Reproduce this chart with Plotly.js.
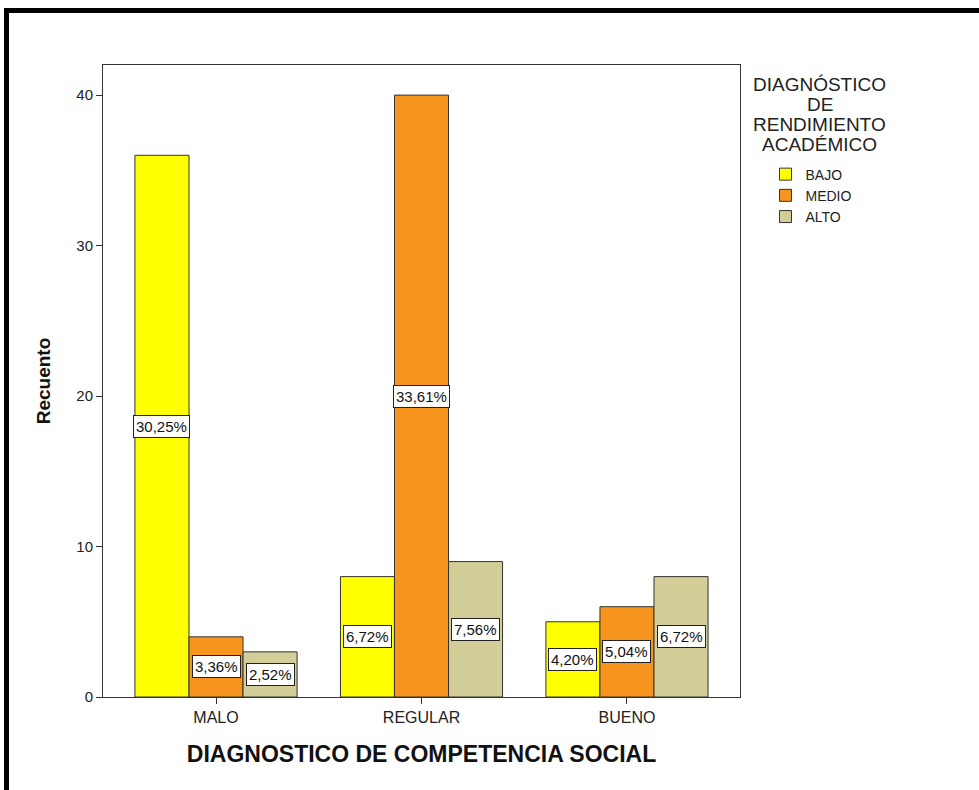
<!DOCTYPE html>
<html>
<head>
<meta charset="utf-8">
<script src="https://cdn.plot.ly/plotly-3.0.1.min.js"></script>
<style>
  html, body { margin: 0; padding: 0; background: #fff; }
  #chart { width: 979px; height: 790px; }
  #frame { position: absolute; left: 4px; top: 8px; width: 975px; height: 782px;
           border-top: 5px solid #000; border-left: 5px solid #000; box-sizing: border-box;
           pointer-events: none; }
</style>
</head>
<body>
<div id="chart"></div>
<div id="frame"></div>
<script>
const categories = ["MALO", "REGULAR", "BUENO"];
const seriesNames = ["BAJO", "MEDIO", "ALTO"];
const bajo = [36, 8, 5];
const medio = [4, 40, 6];
const alto = [3, 9, 8];
const pctBajo = ["30,25%", "6,72%", "4,20%"];
const pctMedio = ["3,36%", "33,61%", "5,04%"];
const pctAlto = ["2,52%", "7,56%", "6,72%"];
const yTicks = [0, 10, 20, 30, 40];
const legendTitleLines = ["DIAGNÓSTICO", "DE", "RENDIMIENTO", "ACADÉMICO"];

const colors = ["#FFFF00", "#F7941E", "#D3CE97"];
const seriesVals = [bajo, medio, alto];
const seriesPct = [pctBajo, pctMedio, pctAlto];
const barW = 0.263;
const offsets = [-1.5 * barW, -0.5 * barW, 0.5 * barW];
const FONT = "Arial, 'Liberation Sans', sans-serif";
const idx = categories.map((c, i) => i);

const traces = seriesNames.map((name, s) => ({
  type: "bar",
  name: name,
  x: idx,
  y: seriesVals[s],
  width: barW,
  offset: offsets[s],
  marker: { color: colors[s], line: { color: "#333333", width: 1 } },
  hoverinfo: "none"
}));

const annotations = [];
seriesNames.forEach((name, s) => {
  seriesVals[s].forEach((v, i) => {
    annotations.push({
      x: i + offsets[s] + barW / 2, y: v / 2, xref: "x", yref: "y",
      text: seriesPct[s][i], showarrow: false,
      font: { family: FONT, size: 15, color: "#111" },
      bgcolor: "#ffffff", bordercolor: "#222222", borderwidth: 1, borderpad: 2
    });
  });
});
legendTitleLines.forEach((line, k) => {
  annotations.push({
    xref: "paper", yref: "paper", x: 1.125, y: 1.0, xanchor: "center", yanchor: "middle",
    yshift: -19 - 20 * k,
    text: line, showarrow: false,
    font: { family: FONT, size: 19, color: "#222" }
  });
});

const layout = {
  width: 979, height: 790,
  margin: { l: 103, r: 239, t: 65, b: 93 },
  paper_bgcolor: "#ffffff", plot_bgcolor: "#ffffff",
  barmode: "overlay",
  showlegend: true,
  legend: {
    x: 1.04, y: 0.852, xanchor: "left", yanchor: "top",
    font: { family: FONT, size: 14, color: "#222" },
    itemwidth: 30, tracegroupgap: 0, bgcolor: "rgba(0,0,0,0)"
  },
  xaxis: {
    range: [-0.55, 2.55],
    tickmode: "array", tickvals: idx, ticktext: categories,
    ticks: "outside", ticklen: 6, tickcolor: "#333",
    showline: true, linecolor: "#333", linewidth: 1, mirror: true,
    showgrid: false, zeroline: false,
    tickfont: { family: FONT, size: 16, color: "#222" },
    title: { text: "DIAGNOSTICO DE COMPETENCIA SOCIAL", standoff: 20,
             font: { family: FONT, size: 23, color: "#111", weight: "bold" } }
  },
  yaxis: {
    range: [0, 42],
    tickmode: "array", tickvals: yTicks,
    ticks: "outside", ticklen: 6, tickcolor: "#333",
    showline: true, linecolor: "#333", linewidth: 1, mirror: true,
    showgrid: false, zeroline: false,
    tickfont: { family: FONT, size: 15, color: "#222" },
    title: { text: "Recuento", standoff: 20,
             font: { family: FONT, size: 19, color: "#111", weight: "bold" } }
  },
  annotations: annotations
};

Plotly.newPlot("chart", traces, layout, { displayModeBar: false, staticPlot: true });
</script>
</body>
</html>
